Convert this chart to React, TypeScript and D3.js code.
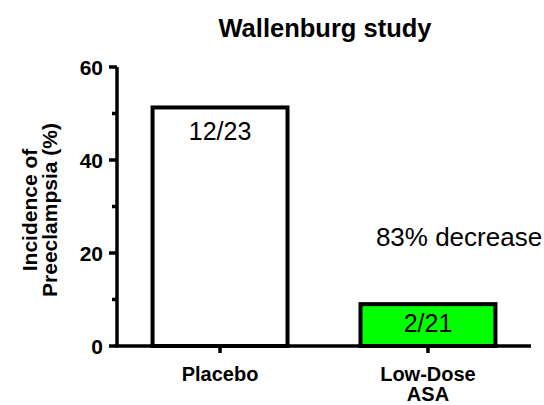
import React from "react";
import * as d3 from "d3";

const categories = ["Placebo", "Low-Dose ASA"];
const categoryLines = [["Placebo"], ["Low-Dose", "ASA"]];
const values = [51.3, 9.0];
const barLabels = ["12/23", "2/21"];
const barFills = ["#ffffff", "#00ff00"];
const majorTicks = [0, 20, 40, 60];
const minorTicks = [10, 30, 50];
const title = "Wallenburg study";
const yTitle = ["Incidence of", "Preeclampsia (%)"];
const annotation = "83% decrease";

const W = 544;
const H = 405;
const FONT = "'Liberation Sans', Arial, Helvetica, sans-serif";

export default function App() {
  const x0 = 117;
  const x1 = 531;
  const y = d3.scaleLinear().domain([0, 60]).range([346, 67]);
  const x = d3
    .scaleBand<string>()
    .domain(categories)
    .range([x0, x1])
    .paddingInner(0.351)
    .paddingOuter(0.171);
  const bw = x.bandwidth();

  return (
    <svg
      width={W}
      height={H}
      style={{ position: "absolute", left: 0, top: 0, background: "#fff" }}
      fontFamily={FONT}
    >
      <rect x={0} y={0} width={W} height={H} fill="#fff" />
      <text x={325} y={37} textAnchor="middle" fontWeight="bold" fontSize={25.5}>
        {title}
      </text>

      {/* bars */}
      {categories.map((c, i) => (
        <g key={c}>
          <rect
            x={x(c)!}
            y={y(values[i])}
            width={bw}
            height={y(0) - y(values[i])}
            fill={barFills[i]}
            stroke="#000"
            strokeWidth={4}
          />
        </g>
      ))}

      {/* y axis */}
      <line x1={x0} x2={x0} y1={y(0) + 1.5} y2={y(60)} stroke="#000" strokeWidth={3.5} />
      {majorTicks.map((t) => (
        <g key={"M" + t}>
          <line x1={x0 - 8} x2={x0} y1={y(t)} y2={y(t)} stroke="#000" strokeWidth={3.5} />
          <text
            x={x0 - 14}
            y={y(t)}
            dy="0.36em"
            textAnchor="end"
            fontWeight="bold"
            fontSize={21}
          >
            {t}
          </text>
        </g>
      ))}
      {minorTicks.map((t) => (
        <line key={"m" + t} x1={x0 - 5} x2={x0} y1={y(t)} y2={y(t)} stroke="#000" strokeWidth={3.5} />
      ))}

      {/* x axis */}
      <line x1={x0} x2={x1} y1={y(0)} y2={y(0)} stroke="#000" strokeWidth={3.5} />
      {categories.map((c, i) => {
        const cx = x(c)! + bw / 2;
        return (
          <g key={"x" + c}>
            <line x1={cx} x2={cx} y1={y(0)} y2={y(0) + 7} stroke="#000" strokeWidth={3.5} />
            {categoryLines[i].map((ln, j) => (
              <text
                key={ln}
                x={cx}
                y={381 + j * 20}
                textAnchor="middle"
                fontWeight="bold"
                fontSize={20}
              >
                {ln}
              </text>
            ))}
            <text
              x={cx}
              y={i === 0 ? y(values[i]) + 33 : y(values[i]) + 28}
              textAnchor="middle"
              fontSize={25}
            >
              {barLabels[i]}
            </text>
          </g>
        );
      })}

      {/* y title */}
      {yTitle.map((ln, j) => (
        <text
          key={ln}
          transform={`translate(${37 + j * 20},${210}) rotate(-90)`}
          textAnchor="middle"
          fontWeight="bold"
          fontSize={21}
        >
          {ln}
        </text>
      ))}

      <text x={459} y={246} textAnchor="middle" fontSize={26}>
        {annotation}
      </text>
    </svg>
  );
}
